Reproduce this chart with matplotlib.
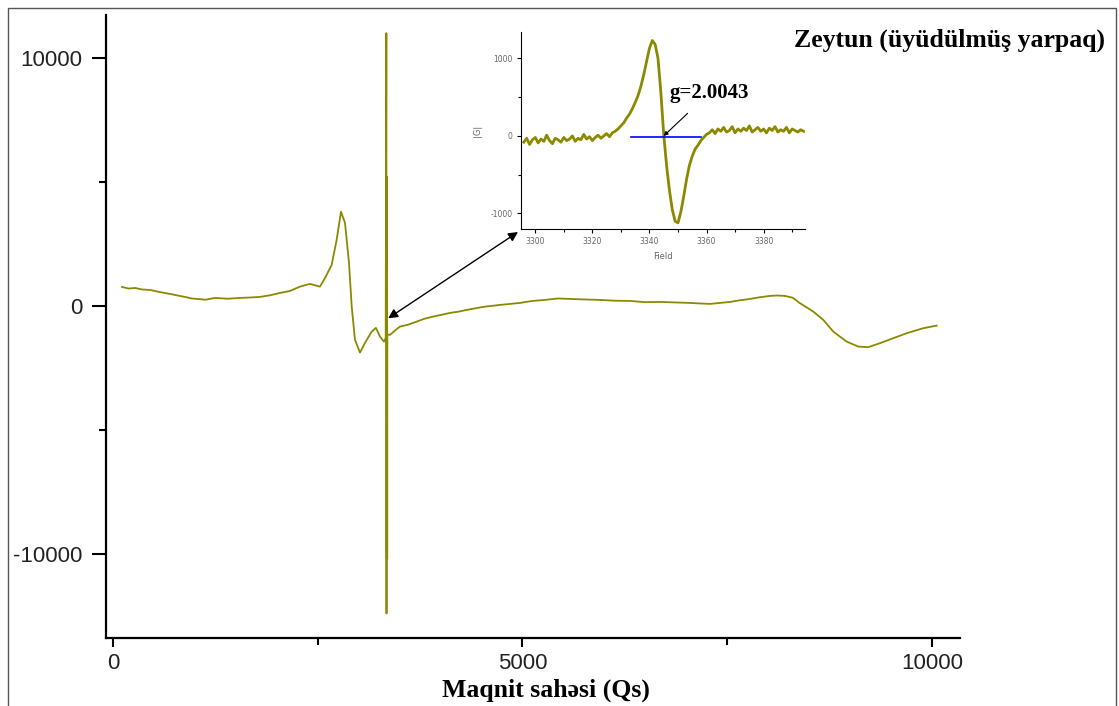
# EPR spectrum of ground olive leaf with zoomed inset around g=2.0043

import numpy as np
import matplotlib.pyplot as plt
from matplotlib.patches import Rectangle

plt.rcParams['axes.unicode_minus'] = False

# main spectrum (field in Oe, signal in a.u.)
field = [110, 190, 269, 360, 452, 570, 696, 790, 879, 960, 1026, 1130, 1245, 1400,
         1551, 1680, 1795, 1920, 2039, 2160, 2283, 2405, 2527, 2589, 2670, 2731,
         2784, 2833, 2882, 2915, 2955, 3016, 3077, 3159, 3211, 3260, 3309, 3330,
         3338, 3340, 3342, 3344, 3346, 3348, 3350, 3382, 3440, 3504, 3600, 3708,
         3800, 3907, 4010, 4115, 4220, 4319, 4420, 4518, 4620, 4725, 4969, 5120,
         5275, 5430, 5580, 5760, 5946, 6130, 6313, 6500, 6679, 6860, 7045, 7160,
         7289, 7410, 7534, 7660, 7778, 7900, 8022, 8110, 8205, 8300, 8388, 8470,
         8551, 8673, 8795, 8958, 9100, 9222, 9365, 9527, 9691, 9893, 10057]
signal = [766, 700, 725, 660, 645, 560, 484, 420, 363, 300, 282, 250, 322, 290,
          322, 340, 363, 430, 524, 600, 778, 887, 778, 1128, 1652, 2660,
          3800, 3345, 1733, -28, -1370, -1882, -1490, -1036, -887, -1237, -1439, -1300,
          11000, -12400, 5200, -10200, 5200, -10200, -1150, -1169, -1000, -834, -760, -633,
          -520, -431, -360, -282, -230, -161, -100, -40, 0, 40, 121, 200,
          242, 300, 282, 260, 242, 210, 202, 150, 161, 140, 121, 100,
          81, 120, 161, 230, 282, 350, 403, 420, 403, 330, 109, -60,
          -230, -564, -1036, -1439, -1640, -1664, -1503, -1302, -1100, -899, -794]

# inset: zoomed line, 1 Oe steps from 3296 to 3394
inset_field = np.arange(3296, 3395, 1)
inset_signal = [-80, -30, -110, -50, -20, -90, -40, -70, 10, -60, -100, -30, -50, -80,
                -20, -60, -40, 0, -70, -30, -50, 20, -40, -10, -60, -20, 10, -30, 0,
                30, -10, 40,
                60, 90, 130, 170, 230, 280, 350, 430, 520, 640, 790, 960, 1130, 1230,
                1180, 1000, 560, 20, -380, -700, -950, -1100, -1120, -980, -780, -560,
                -380, -260, -170, -120, -60, -20, 20,
                40, 80, 30, 90, 60, 110, 50, 70, 120, 40, 90, 60, 100, 70, 130, 50, 80,
                110, 60, 90, 40, 100, 70, 120, 50, 80, 60, 110, 40, 90, 70, 50, 80, 60]

olive = '#8a8a00'
W, H = 1119, 706

fig = plt.figure(figsize=(W / 100, H / 100), dpi=100)

# thin frame around the whole picture
fig.patches.append(Rectangle((8 / W, -0.1), (1116 - 8) / W, 1 - 8 / H + 0.1,
                             transform=fig.transFigure, fill=False,
                             edgecolor='#555555', lw=1))

ax = fig.add_axes([106 / W, (H - 638) / H, (960 - 106) / W, (638 - 15) / H])
ax.plot(field, signal, color=olive, lw=1.3)
ax.set_xlim(-85, 10342)
ax.set_ylim(-13390, 11730)
for s in ['top', 'right']:
    ax.spines[s].set_visible(False)
for s in ['left', 'bottom']:
    ax.spines[s].set_linewidth(1.6)
ax.set_xticks([0, 5000, 10000])
ax.set_xticks([2500, 7500], minor=True)
ax.set_yticks([-10000, 0, 10000])
ax.set_yticks([-5000, 5000], minor=True)
ax.tick_params(axis='y', which='major', length=10, width=1.5, pad=7)
ax.tick_params(axis='y', which='minor', length=5, width=1.5)
ax.tick_params(axis='x', which='major', length=6.5, width=1.5, pad=4)
ax.tick_params(axis='x', which='minor', length=5, width=1.5)
for lab in ax.get_xticklabels() + ax.get_yticklabels():
    lab.set_fontfamily('Liberation Sans')
    lab.set_fontsize(16)
    lab.set_color('#222222')

ax.set_xlabel('Maqnit sahəsi (Qs)', family=['Liberation Serif', 'DejaVu Serif'],
              fontweight='bold', fontsize=18.5)
ax.xaxis.set_label_coords((546 - 106) / (960 - 106), -(690 - 638) / (638 - 15))
ax.xaxis.label.set_va('center')
fig.text(1105 / W, 1 - 40 / H, 'Zeytun (üyüdülmüş yarpaq)',
         family=['Liberation Serif', 'DejaVu Serif'], fontweight='bold',
         fontsize=18.5, ha='right', va='center')

# inset
ins = fig.add_axes([521 / W, (H - 229) / H, (805 - 521) / W, (229 - 32) / H])
ins.plot(inset_field, inset_signal, color=olive, lw=2)
ins.plot([3333.5, 3358], [-20, -20], color='#0000ff', lw=1.2)
ins.set_xlim(3295, 3394.5)
ins.set_ylim(-1200, 1340)
for s in ['top', 'right']:
    ins.spines[s].set_visible(False)
ins.set_xticks([3300, 3320, 3340, 3360, 3380])
ins.set_xticks([3310, 3330, 3350, 3370, 3390], minor=True)
ins.set_yticks([-1000, 0, 1000])
ins.set_yticks([-500, 500], minor=True)
ins.tick_params(which='major', length=3, width=0.8, labelsize=5.5,
                labelcolor='#666666', pad=3)
ins.tick_params(which='minor', length=2, width=0.8)
ins.set_xlabel('Field', fontsize=6, color='#666666', labelpad=4)
ins.set_ylabel('|G|', fontsize=6, color='#666666', labelpad=6)
ins.annotate('g=2.0043', xy=(3345, 0), xytext=(3347, 555),
             family=['Liberation Serif', 'DejaVu Serif'], fontweight='bold',
             fontsize=15, va='center',
             arrowprops=dict(arrowstyle='-|>', color='black', lw=0.8,
                             mutation_scale=6, shrinkA=8, shrinkB=0))

# double arrow linking the spike with the inset
ax.annotate('', xy=(3360, -500), xycoords='data',
            xytext=(518 / W, 1 - 232 / H), textcoords='figure fraction',
            arrowprops=dict(arrowstyle='<|-|>', color='black', lw=1,
                            mutation_scale=14, shrinkA=0, shrinkB=0))

fig.savefig('out.png', dpi=100)
